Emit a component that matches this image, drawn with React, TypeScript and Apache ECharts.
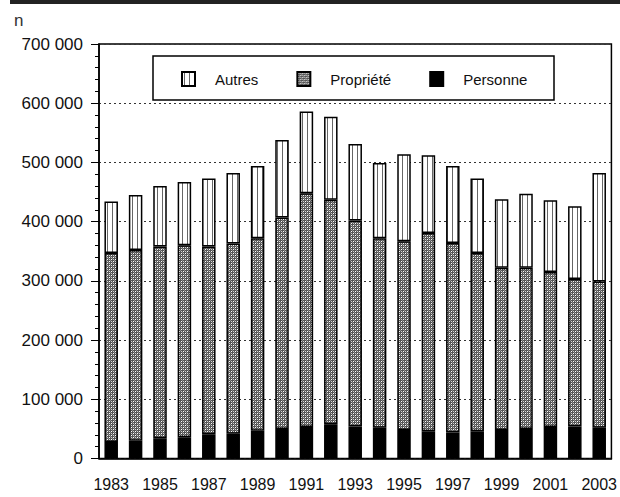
import React, { useEffect, useRef } from "react";
import * as echarts from "echarts";

const years = ["1983","1984","1985","1986","1987","1988","1989","1990","1991","1992","1993","1994","1995","1996","1997","1998","1999","2000","2001","2002","2003"];
const personne = [28000, 30000, 34000, 36000, 41000, 42000, 47000, 50000, 53000, 58000, 54000, 52000, 48000, 46000, 44000, 46000, 48000, 50000, 53000, 54000, 52000];
const propriete = [319000, 322000, 324000, 324000, 317000, 321000, 325000, 357000, 395000, 379000, 348000, 320000, 319000, 335000, 320000, 301000, 274000, 272000, 262000, 249000, 247000];
const autres = [87000, 93000, 102000, 107000, 115000, 119000, 122000, 131000, 138000, 140000, 129000, 127000, 147000, 131000, 130000, 126000, 116000, 125000, 121000, 123000, 183000];
const legendNames = ["Autres", "Propriété", "Personne"];

function makeStripe() {
  const c = document.createElement("canvas");
  c.width = 5; c.height = 4;
  const g = c.getContext("2d")!;
  g.fillStyle = "#ffffff"; g.fillRect(0, 0, 5, 4);
  g.fillStyle = "#666666"; g.fillRect(2, 0, 1, 4);
  return c;
}
function makeHatch() {
  const c = document.createElement("canvas");
  c.width = 4; c.height = 4;
  const g = c.getContext("2d")!;
  g.fillStyle = "#555555"; g.fillRect(0, 0, 4, 4);
  g.fillStyle = "#ffffff"; g.fillRect(1, 1, 1, 1); g.fillRect(3, 3, 1, 1);
  g.fillStyle = "#d0d0d0"; g.fillRect(3, 1, 1, 1); g.fillRect(1, 3, 1, 1);
  g.fillStyle = "#8a8a8a"; g.fillRect(0, 2, 1, 1); g.fillRect(2, 0, 1, 1);
  return c;
}

export default function App() {
  const ref = useRef<HTMLDivElement>(null);
  useEffect(() => {
    document.body.style.margin = "0";
    const chart = echarts.init(ref.current!, null, { renderer: "svg" });
    const stripe = makeStripe();
    const hatch = makeHatch();
    const font = "'Liberation Sans', Arial, sans-serif";
    const barBase = { type: "bar", stack: "t", barWidth: 13.5 };
    chart.setOption({
      animation: false,
      textStyle: { fontFamily: font },
      grid: { left: 99, right: 8, top: 44, bottom: 38.5, show: true, borderColor: "#000", borderWidth: 1.5, backgroundColor: "transparent" },
      legend: {
        data: legendNames, left: 181, top: 71, padding: 0, itemGap: 38,
        itemWidth: 13, itemHeight: 14, icon: "rect",
        textStyle: { fontSize: 15, color: "#111", padding: [0, 0, 0, 15], fontFamily: font },
      },
      graphic: [
        { type: "rect", shape: { x: 10, y: 0, width: 610, height: 4 }, style: { fill: "#222" } },
        { type: "text", x: 14, y: 12, style: { text: "n", fontSize: 17, fill: "#333", fontFamily: font } },
        { type: "rect", shape: { x: 153, y: 56, width: 401, height: 44 }, style: { fill: "none", stroke: "#000", lineWidth: 1.5 }, z: 10 },
      ],
      xAxis: {
        type: "category", data: years,
        axisLine: { lineStyle: { color: "#000", width: 1.5 } },
        axisTick: { interval: 0, length: 11, alignWithLabel: false, lineStyle: { color: "#000" } },
        axisLabel: { interval: 1, margin: 18, fontSize: 16, color: "#111", fontFamily: font },
        splitLine: { show: false },
      },
      yAxis: {
        type: "value", min: 0, max: 700000, interval: 100000,
        axisLine: { show: true, lineStyle: { color: "#000", width: 1.5 } },
        axisTick: { show: true, length: 8, lineStyle: { color: "#000" } },
        minorTick: { show: true, splitNumber: 5, length: 4, lineStyle: { color: "#000" } },
        axisLabel: {
          margin: 16, fontSize: 17, color: "#111", fontFamily: font,
          formatter: (v: number) => (v === 0 ? "0" : `${v / 1000} 000`),
        },
        splitLine: { show: true, lineStyle: { color: "#333", type: [2, 3], width: 1 } },
      },
      series: [
        { ...barBase, name: "Personne", data: personne, itemStyle: { color: "#000", borderColor: "#000", borderWidth: 1.5 } },
        { ...barBase, name: "Propriété", data: propriete, itemStyle: { color: { image: hatch, repeat: "repeat", imageWidth: 4, imageHeight: 4 }, borderColor: "#000", borderWidth: 1.5 } },
        { ...barBase, name: "Autres", data: autres, itemStyle: { color: { image: stripe, repeat: "repeat", imageWidth: 5, imageHeight: 4 }, borderColor: "#000", borderWidth: 1.5 } },
      ],
    });
    return () => chart.dispose();
  }, []);
  return <div ref={ref} style={{ width: 620, height: 497, position: "absolute", left: 0, top: 0 }} />;
}
